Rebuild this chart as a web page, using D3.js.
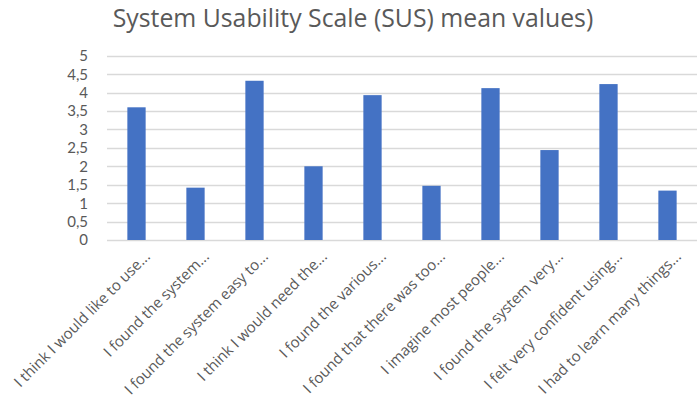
<!DOCTYPE html>
<html>
<head>
<meta charset="utf-8">
<script src="https://cdn.jsdelivr.net/npm/d3@7"></script>
<style>
  body { margin: 0; background: #fff; }
  svg { font-family: "Open Sans", sans-serif; }
</style>
</head>
<body>
<div id="chart"></div>
<script>
// SUS statements (truncated the way the original chart shows them)
var statements = [
  "I think I would like to use...",
  "I found the system...",
  "I found the system easy to...",
  "I think I would need the...",
  "I found the various...",
  "I found that there was too...",
  "I imagine most people...",
  "I found the system very...",
  "I felt very confident using...",
  "I had to learn many things..."
];
var meanValues = [3.6, 1.42, 4.32, 2.0, 3.93, 1.47, 4.12, 2.44, 4.23, 1.34];
var yTicks = [0, 0.5, 1, 1.5, 2, 2.5, 3, 3.5, 4, 4.5, 5];
var chartTitle = "System Usability Scale (SUS) mean values)";

var width = 700, height = 404;
var margin = { top: 55.7, right: 3, bottom: 164, left: 107 };

var svg = d3.select("#chart").append("svg")
  .attr("width", width)
  .attr("height", height);

var x = d3.scaleBand()
  .domain(statements)
  .range([margin.left, width - margin.right])
  .paddingInner(0.69)
  .paddingOuter(0.345);

var y = d3.scaleLinear()
  .domain([0, 5])
  .range([height - margin.bottom, margin.top]);

// gridlines
svg.append("g")
  .selectAll("line")
  .data(yTicks)
  .enter().append("line")
  .attr("x1", margin.left)
  .attr("x2", width - margin.right)
  .attr("y1", function(d) { return Math.round(y(d)) + 0.5; })
  .attr("y2", function(d) { return Math.round(y(d)) + 0.5; })
  .attr("stroke", "#d9d9d9")
  .attr("stroke-width", 1.3);

// y tick labels (comma decimals like the original)
// Lato here: its line box is short enough that 0.5-steps don't collide
var fmt = d3.format(".1~f");
svg.append("g")
  .selectAll("text")
  .data(yTicks)
  .enter().append("text")
  .attr("x", 88)
  .attr("y", function(d) { return y(d); })
  .attr("dy", "0.36em")
  .attr("text-anchor", "end")
  .attr("fill", "#595959")
  .style("font-family", "Lato, sans-serif")
  .style("font-size", "15px")
  .text(function(d) { return fmt(d).replace(".", ","); });

// bars
svg.append("g")
  .selectAll("rect")
  .data(meanValues)
  .enter().append("rect")
  .attr("x", function(d, i) { return x(statements[i]); })
  .attr("y", function(d) { return y(d); })
  .attr("width", x.bandwidth())
  .attr("height", function(d) { return y(0) - y(d); })
  .attr("fill", "#4472c4");

// rotated category labels
svg.append("g")
  .selectAll("text")
  .data(statements)
  .enter().append("text")
  .attr("transform", function(d) {
    var cx = x(d) + x.bandwidth() / 2;
    return "translate(" + (cx + 7) + "," + 250 + ") rotate(-45)";
  })
  .attr("text-anchor", "end")
  .attr("dy", "0.7em")
  .attr("fill", "#595959")
  .style("font-size", "15px")
  .text(function(d) { return d; });

// title
svg.append("text")
  .attr("x", 353)
  .attr("y", 27)
  .attr("text-anchor", "middle")
  .attr("fill", "#595959")
  .style("font-size", "24.8px")
  .text(chartTitle);
</script>
</body>
</html>
